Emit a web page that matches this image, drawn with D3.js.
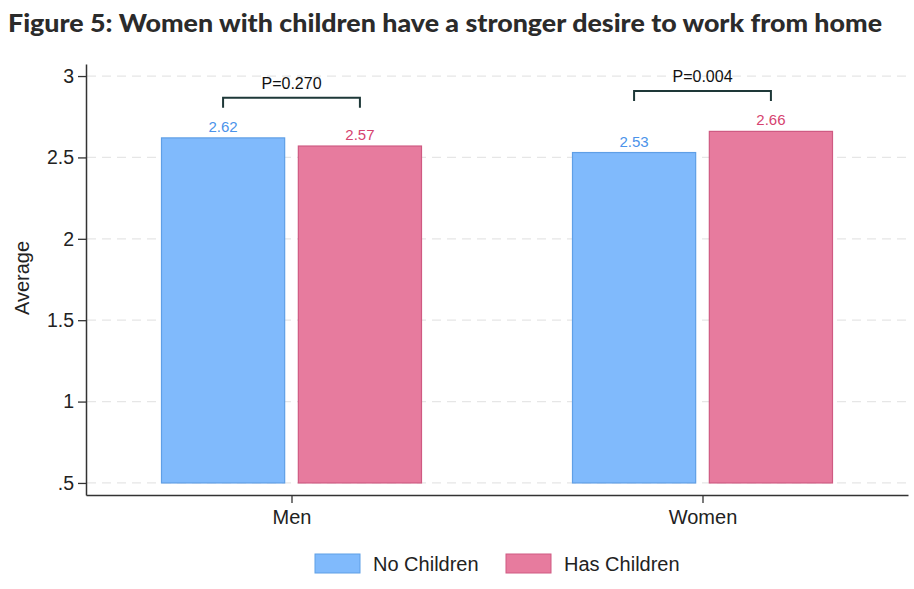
<!DOCTYPE html>
<html>
<head>
<meta charset="utf-8">
<script src="https://cdn.jsdelivr.net/npm/d3@7"></script>
<style>
  body { margin: 0; background: #fff; }
  text { font-family: "Liberation Sans", Arial, sans-serif; }
</style>
</head>
<body>
<div id="chart"></div>
<script>
// data
let groups = ["Men", "Women"];
let series = ["No Children", "Has Children"];
let noChildren = [2.62, 2.53];
let hasChildren = [2.57, 2.66];
let pLabels = ["P=0.270", "P=0.004"];
let bracketLevel = [2.867, 2.908];
let yTicks = [0.5, 1, 1.5, 2, 2.5, 3];
let yTickLabels = [".5", "1", "1.5", "2", "2.5", "3"];

let W = 914, H = 589;
let colors = {"No Children": "#80bafc", "Has Children": "#e77b9e"};
let strokes = {"No Children": "#5f9fe6", "Has Children": "#cf5a82"};
let labelColors = {"No Children": "#4b93ea", "Has Children": "#d6436f"};

let svg = d3.select("#chart")
  .append("svg")
  .attr("width", W)
  .attr("height", H);

// title
svg.append("text")
  .attr("x", 8)
  .attr("y", 32)
  .attr("textLength", 874)
  .attr("lengthAdjust", "spacingAndGlyphs")
  .style("font-family", "Lato, 'Open Sans', sans-serif")
  .style("font-size", "25px")
  .style("font-weight", "900")
  .style("fill", "#2b2b2b")
  .text("Figure 5: Women with children have a stronger desire to work from home");

// scales
let x = d3.scalePoint()
  .domain(groups)
  .range([86, 908])
  .padding(0.5);

let xInner = d3.scaleBand()
  .domain(series)
  .range([-130, 130])
  .paddingInner(0.1);

let y = d3.scaleLinear()
  .domain([0.426, 3.074])
  .range([495, 64]);

// gridlines
svg.append("g")
  .selectAll("line")
  .data(yTicks)
  .enter()
  .append("line")
  .attr("x1", 87)
  .attr("x2", 908)
  .attr("y1", d => y(d))
  .attr("y2", d => y(d))
  .attr("stroke", "#e6e6e6")
  .attr("stroke-width", 1.2)
  .attr("stroke-dasharray", "9,6");

// y axis
let yAxis = svg.append("g")
  .attr("transform", "translate(86,0)")
  .call(d3.axisLeft(y)
    .tickValues(yTicks)
    .tickFormat((d, i) => yTickLabels[i])
    .tickSize(8)
    .tickSizeOuter(0)
    .tickPadding(4));
yAxis.select(".domain").attr("stroke", "#333").attr("stroke-width", 1.5);
yAxis.selectAll(".tick line").attr("stroke", "#333").attr("stroke-width", 1.3);
yAxis.selectAll(".tick text")
  .style("font-size", "19.5px")
  .style("font-family", "'Liberation Sans', Arial, sans-serif")
  .attr("fill", "#222");

// x axis
let xAxis = svg.append("g")
  .attr("transform", "translate(0,495)")
  .call(d3.axisBottom(x).tickSize(8).tickSizeOuter(0).tickPadding(7));
xAxis.select(".domain").attr("stroke", "#333").attr("stroke-width", 1.5);
xAxis.selectAll(".tick line").attr("stroke", "#333").attr("stroke-width", 1.3);
xAxis.selectAll(".tick text")
  .style("font-size", "20px")
  .style("font-family", "'Liberation Sans', Arial, sans-serif")
  .attr("fill", "#222");

// y axis title
svg.append("text")
  .attr("transform", "translate(29,278) rotate(-90)")
  .attr("text-anchor", "middle")
  .style("font-size", "20px")
  .style("fill", "#222")
  .text("Average");

// bars
let rows = [];
groups.forEach((g, i) => {
  rows.push({group: g, s: "No Children", v: noChildren[i]});
  rows.push({group: g, s: "Has Children", v: hasChildren[i]});
});

svg.append("g")
  .selectAll("rect")
  .data(rows)
  .enter()
  .append("rect")
  .attr("x", d => x(d.group) + xInner(d.s))
  .attr("y", d => y(d.v))
  .attr("width", xInner.bandwidth())
  .attr("height", d => y(0.5) - y(d.v))
  .attr("fill", d => colors[d.s])
  .attr("stroke", d => strokes[d.s])
  .attr("stroke-width", 1.2);

svg.append("g")
  .selectAll("text")
  .data(rows)
  .enter()
  .append("text")
  .attr("x", d => x(d.group) + xInner(d.s) + xInner.bandwidth() / 2)
  .attr("y", d => y(d.v) - 6)
  .attr("text-anchor", "middle")
  .style("font-size", "15px")
  .style("fill", d => labelColors[d.s])
  .text(d => d.v.toFixed(2));

// p-value brackets
groups.forEach((g, i) => {
  let x1 = x(g) + xInner("No Children") + xInner.bandwidth() / 2;
  let x2 = x(g) + xInner("Has Children") + xInner.bandwidth() / 2;
  let by = y(bracketLevel[i]);
  svg.append("path")
    .attr("d", "M" + x1 + "," + (by + 10) + "V" + by + "H" + x2 + "V" + (by + 10))
    .attr("fill", "none")
    .attr("stroke", "#1e3838")
    .attr("stroke-width", 2);
  svg.append("text")
    .attr("x", (x1 + x2) / 2)
    .attr("y", by - 9)
    .attr("text-anchor", "middle")
    .style("font-size", "16px")
    .style("fill", "#111")
    .text(pLabels[i]);
});

// legend
let legend = svg.append("g")
  .selectAll("g")
  .data(series)
  .enter()
  .append("g")
  .attr("transform", (d, i) => "translate(" + [315, 506][i] + ",554)");
legend.append("rect")
  .attr("width", 45)
  .attr("height", 19)
  .attr("fill", d => colors[d])
  .attr("stroke", d => strokes[d])
  .attr("stroke-width", 1);
legend.append("text")
  .attr("x", 58)
  .attr("y", 17)
  .style("font-size", "20px")
  .style("fill", "#222")
  .text(d => d);
</script>
</body>
</html>
